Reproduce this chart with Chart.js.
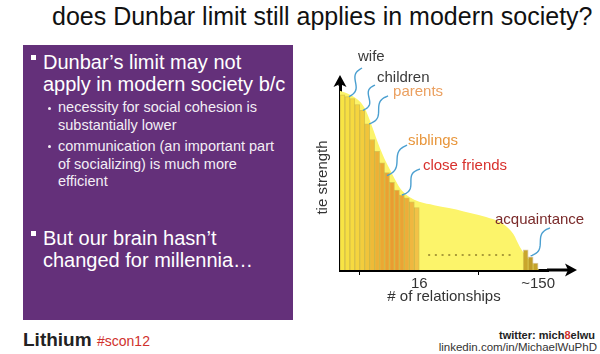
<!DOCTYPE html>
<html>
<head>
<meta charset="utf-8">
<script src="https://cdn.jsdelivr.net/npm/chart.js@4.4.1/dist/chart.umd.min.js"></script>
<style>
  body { margin:0; width:600px; height:354px; background:#fff; position:relative; overflow:hidden;
         font-family:"Liberation Sans", Arial, sans-serif; }
  .title { position:absolute; left:52px; top:2px; font-size:25px; line-height:28px; color:#111; white-space:nowrap; }
  .panel { position:absolute; left:23px; top:45px; width:270px; height:275px; background:#64307a; }
  .main { position:absolute; left:43px; font-size:20px; line-height:22px; color:#fff; white-space:nowrap; }
  .sq { position:absolute; left:31px; width:5px; height:5px; background:#fff; }
  .sub { position:absolute; left:58px; font-size:14.5px; line-height:17.5px; color:#f3eef5; white-space:nowrap; }
  .dot { position:absolute; left:48px; width:3px; height:3px; border-radius:50%; background:#f3eef5; }
  #wrap { position:absolute; left:300px; top:40px; width:300px; height:270px; }
  .logo { position:absolute; left:23px; top:330px; font-size:19px; line-height:20px; font-weight:bold; color:#222; }
  .tag { position:absolute; left:97px; top:333px; font-size:14px; line-height:16px; color:#d0312d; }
  .tw { position:absolute; right:5px; top:329px; font-size:11px; line-height:12px; font-weight:bold; color:#222; }
  .li { position:absolute; right:3px; top:341px; font-size:11.5px; line-height:13px; color:#333; }
</style>
</head>
<body>
<div class="title">does Dunbar limit still applies in modern society?</div>

<div class="panel"></div>
<div class="sq" style="top:55px"></div>
<div class="main" style="top:51px">Dunbar’s limit may not<br>apply in modern society b/c</div>
<div class="dot" style="top:107px"></div>
<div class="sub" style="top:99px">necessity for social cohesion is<br>substantially lower</div>
<div class="dot" style="top:145px"></div>
<div class="sub" style="top:138px">communication (an important part<br>of socializing) is much more<br>efficient</div>
<div class="sq" style="top:231px"></div>
<div class="main" style="top:227px">But our brain hasn’t<br>changed for millennia…</div>

<div id="wrap"><canvas id="chart" width="300" height="270"></canvas></div>

<div class="logo">Lithium</div>
<div class="tag">#scon12</div>
<div class="tw">twitter: mich<span style="color:#d0312d">8</span>elwu</div>
<div class="li">linkedin.com/in/MichaelWuPhD</div>

<script>
// relationships ranked by tie strength (rank 1 = strongest)
const innerRanks = [1, 2, 3, 4, 5, 6, 7, 8, 9, 10, 11, 12, 13, 14, 15, 16];
const innerTie = [90, 89, 88, 85, 82, 75, 67, 61, 55, 50, 45, 41, 38.5, 37, 35, 32];
const acqRanks = [38, 39, 40];
const acqTie = [10.3, 6.7, 3.5];

// smooth envelope of tie strength
const curveRanks = [0, 2, 4, 5, 6, 7, 8, 9, 10, 11, 12, 13, 14, 16, 19, 22, 25, 28, 31, 33, 35, 36.3, 37.5, 38.5, 40.2];
const curveTie = [92, 90, 86.5, 83, 77, 70, 63, 57, 52, 47, 42.5, 39.5, 37.5, 35, 33.3, 31.8, 30.1, 28.3, 26, 23.5, 18.5, 12, 7.5, 4.5, 0];

// the "..." between the inner circle and the acquaintances
const gapRanks = [17.8, 35.3];
const gapTie = [7.7, 7.7];

const tickValues = [16, 40];
const tickLabels = ['16', '~150'];

const tieNames = ['wife', 'children', 'parents', 'siblings', 'close friends', 'acquaintance'];
const tieRanks = [2, 5, 6, 10, 13, 39];

// styles
const barColors = ['#f8e444','#f7df42','#f6da40','#f5d43e','#f3cd3c','#f1c43a','#efba37','#edb035',
  '#eba833','#eaa132','#e99c31','#e99d32','#eaa335','#edad3a','#f0b740','#f3c247',
  '#c9a62c','#bf9c28','#c4a22a'];
const labelStyle = [
  {color:'#3a3a3a', dx:10.6, dy:-39.7, sx:1.6, sy:0, ex:14.6, ey:-28.7},
  {color:'#3a3a3a', dx:14.7, dy:-32.3, sx:0.7, sy:0, ex:12.7, ey:-25.3},
  {color:'#eba060', dx:25.8, dy:-32, sx:2, sy:0, ex:20.8, ey:-28},
  {color:'#e8963c', dx:21, dy:-31.6, sx:0, sy:3, ex:20, ey:-27.6},
  {color:'#d8302c', dx:21, dy:-29, sx:0, sy:0, ex:18, ey:-26},
  {color:'#7a2a2a', dx:-35.7, dy:-37, sx:0, sy:-1, ex:19.3, ey:-29}
];

const allRanks = innerRanks.concat(acqRanks);
const allTie = innerTie.concat(acqTie);
const barData = allRanks.map((r, i) => ({x: r - 0.5, y: allTie[i]}));
const curveData = curveRanks.map((r, i) => ({x: r, y: curveTie[i]}));
const gapData = gapRanks.map((r, i) => ({x: r, y: gapTie[i]}));

function wiggle(ctx, x0, y0, x1, y1) {
  const dx = x1 - x0, dy = y1 - y0;
  const len = Math.hypot(dx, dy);
  const px = -dy / len, py = dx / len;
  ctx.beginPath();
  for (let t = 0; t <= 1.0001; t += 0.04) {
    const w = 3.5 * Math.sin(2 * Math.PI * t);
    const x = x0 + dx * t + px * w, y = y0 + dy * t + py * w;
    if (t === 0) ctx.moveTo(x, y); else ctx.lineTo(x, y);
  }
  ctx.stroke();
}

const tiePlugin = {
  id: 'ties',
  afterDraw(chart) {
    const ctx = chart.ctx;
    const a = chart.chartArea;
    ctx.save();
    // arrow heads on the axes
    ctx.fillStyle = '#000';
    ctx.strokeStyle = '#000';
    ctx.lineWidth = 3;
    ctx.beginPath();
    ctx.moveTo(a.left, a.top + 1); ctx.lineTo(a.left, a.top - 3);
    ctx.moveTo(a.right - 1, a.bottom); ctx.lineTo(a.right + 21, a.bottom);
    ctx.stroke();
    ctx.beginPath();
    ctx.moveTo(a.left, a.top - 10);
    ctx.lineTo(a.left - 6.5, a.top + 2);
    ctx.lineTo(a.left, a.top - 1);
    ctx.lineTo(a.left + 6.5, a.top + 2);
    ctx.closePath(); ctx.fill();
    ctx.beginPath();
    ctx.moveTo(a.right + 29, a.bottom);
    ctx.lineTo(a.right + 17, a.bottom - 6.5);
    ctx.lineTo(a.right + 20, a.bottom);
    ctx.lineTo(a.right + 17, a.bottom + 6.5);
    ctx.closePath(); ctx.fill();

    // labels with squiggly leaders
    const bars = chart.getDatasetMeta(1).data;
    ctx.font = '15px "Liberation Sans", Arial, sans-serif';
    ctx.textBaseline = 'middle';
    tieNames.forEach((name, i) => {
      const el = bars[allRanks.indexOf(tieRanks[i])];
      const s = labelStyle[i];
      ctx.strokeStyle = '#4a9fd0';
      ctx.lineWidth = 1.4;
      wiggle(ctx, el.x + s.sx, el.y + s.sy, el.x + s.ex, el.y + s.ey);
      ctx.fillStyle = s.color;
      ctx.fillText(name, el.x + s.dx, el.y + s.dy);
    });
    ctx.restore();
  }
};

new Chart(document.getElementById('chart'), {
  type: 'line',
  data: {
    datasets: [
      {
        type: 'line', data: gapData, order: 0,
        borderColor: '#a99b3a', borderWidth: 2, borderDash: [2, 4.7], pointRadius: 0, fill: false
      },
      {
        type: 'bar', data: barData, order: 1,
        backgroundColor: barColors, borderColor: 'rgba(165,125,35,0.4)', borderWidth: 1,
        barPercentage: 1, categoryPercentage: 1
      },
      {
        type: 'line', data: curveData, order: 3,
        fill: 'origin', backgroundColor: '#fcf46a', borderWidth: 0, pointRadius: 0,
        cubicInterpolationMode: 'monotone'
      }
    ]
  },
  options: {
    responsive: false,
    animation: false,
    events: [],
    layout: { padding: { top: 45, right: 52, left: 0, bottom: 0 } },
    plugins: { legend: { display: false }, tooltip: { enabled: false } },
    scales: {
      x: {
        type: 'linear', min: 0, max: 42, offset: false, z: 1,
        afterFit: s => { s.height = 40; },
        afterBuildTicks: s => { s.ticks = tickValues.map(v => ({value: v})); },
        ticks: {
          padding: 0, color: '#333', font: { size: 15, family: '"Liberation Sans", Arial' },
          maxRotation: 0, autoSkip: false,
          callback: v => tickLabels[tickValues.indexOf(v)]
        },
        grid: { display: true, drawOnChartArea: false, drawTicks: true, tickLength: 5, tickColor: '#000', tickWidth: 1 },
        border: { display: true, color: '#000', width: 3 },
        title: {
          display: true, text: '# of relationships', color: '#333',
          font: { size: 15, family: '"Liberation Sans", Arial' }, padding: { top: 0, bottom: 4 }
        }
      },
      y: {
        min: 0, max: 95, z: 1,
        afterFit: s => { s.width = 40; },
        ticks: { display: false },
        grid: { display: false },
        border: { display: true, color: '#000', width: 3 },
        title: {
          display: true, text: 'tie strength', color: '#333',
          font: { size: 15, family: '"Liberation Sans", Arial' }, padding: { top: 14, bottom: 0 }
        }
      }
    }
  },
  plugins: [tiePlugin]
});
</script>
</body>
</html>
